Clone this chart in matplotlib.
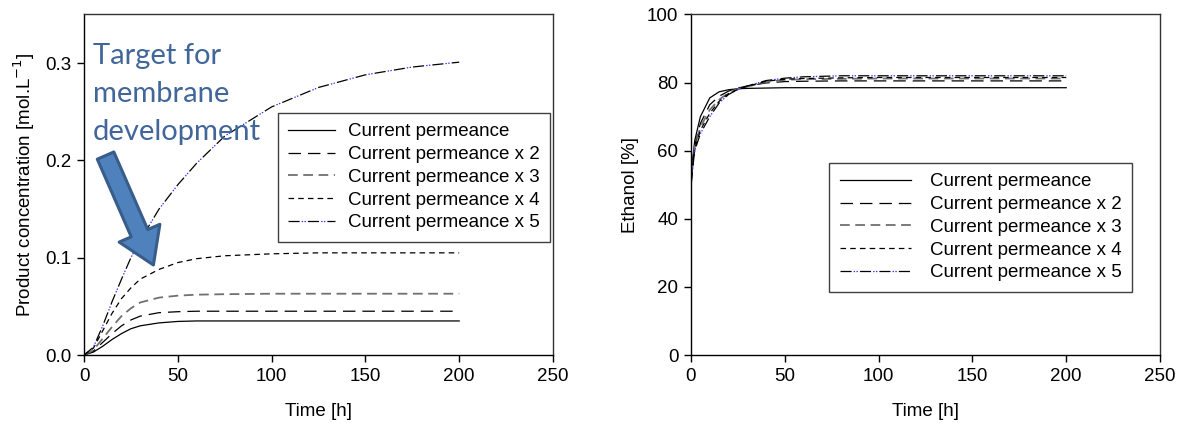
import matplotlib
matplotlib.use("Agg")
import matplotlib.pyplot as plt
from matplotlib.patches import FancyArrowPatch

plt.rcParams['font.family'] = ['Liberation Sans', 'DejaVu Sans']
plt.rcParams['lines.scale_dashes'] = False

labels = ["Current permeance", "Current permeance x 2", "Current permeance x 3",
          "Current permeance x 4", "Current permeance x 5"]

# product concentration [mol/L] vs time [h]
t_conc = [0, 5, 10, 15, 20, 25, 30, 40, 50, 60, 75, 100, 125, 150, 175, 200]
conc_x1 = [0, 0.003, 0.009, 0.016, 0.022, 0.027, 0.030, 0.033, 0.0345, 0.035, 0.035, 0.035, 0.035, 0.035, 0.035, 0.035]
conc_x2 = [0, 0.004, 0.013, 0.022, 0.030, 0.036, 0.040, 0.0435, 0.0445, 0.045, 0.045, 0.045, 0.045, 0.045, 0.045, 0.045]
conc_x3 = [0, 0.005, 0.017, 0.029, 0.040, 0.048, 0.054, 0.059, 0.061, 0.062, 0.0625, 0.063, 0.063, 0.063, 0.063, 0.063]
conc_x4 = [0, 0.007, 0.025, 0.043, 0.058, 0.069, 0.078, 0.088, 0.095, 0.099, 0.102, 0.104, 0.105, 0.105, 0.105, 0.105]
conc_x5 = [0, 0.008, 0.030, 0.055, 0.078, 0.100, 0.118, 0.150, 0.175, 0.197, 0.225, 0.255, 0.275, 0.288, 0.296, 0.301]

# ethanol [%] vs time [h]
t_eth = [0, 1, 2, 5, 10, 15, 20, 25, 30, 40, 50, 60, 80, 100, 150, 200]
eth_x1 = [50, 58, 63, 70, 75.5, 77.3, 77.9, 78.2, 78.3, 78.4, 78.5, 78.5, 78.5, 78.5, 78.5, 78.5]
eth_x2 = [50, 57, 61.5, 68, 73.5, 76, 77.5, 78.4, 79, 79.9, 80.3, 80.4, 80.5, 80.5, 80.5, 80.5]
eth_x3 = [50, 56.5, 61, 67, 72, 75, 77, 78.1, 78.8, 80.2, 80.8, 81, 81.1, 81.2, 81.2, 81.2]
eth_x4 = [50, 56, 60.5, 66, 71, 74.5, 76.8, 78, 78.9, 80.4, 81.0, 81.2, 81.4, 81.5, 81.5, 81.5]
eth_x5 = [50, 55.5, 60, 65, 70, 74, 76.5, 78, 79, 80.6, 81.3, 81.7, 82, 82, 82, 82]

fig = plt.figure(figsize=(11.79, 4.23), dpi=100)
ax1 = fig.add_axes([84/1179, 68/423, 469/1179, 340.5/423])
ax2 = fig.add_axes([691/1179, 68/423, 469/1179, 340.5/423])

lw = 0.9


def draw(ax, t, series):
    handles = []
    h, = ax.plot(t, series[0], color='black', lw=lw, ls='-')
    handles.append(h)
    h, = ax.plot(t, series[1], color='black', lw=lw, ls=(0, (9, 5)))
    handles.append(h)
    h, = ax.plot(t, series[2], color='#707070', lw=1.3, ls=(0, (7, 4)))
    handles.append(h)
    h, = ax.plot(t, series[3], color='black', lw=lw, ls=(0, (4, 3)))
    handles.append(h)
    hb, = ax.plot(t, series[4], color='black', lw=lw, ls=(0, (8, 6)))
    hd, = ax.plot(t, series[4], color='#3030ff', lw=lw, ls=(4.5, (1, 1, 1, 11)))
    handles.append((hb, hd))
    return handles


def style(ax):
    ax.set_xlim(0, 250)
    ax.set_xticks(range(0, 251, 50))
    ax.spines['top'].set_color('#333333')
    ax.spines['right'].set_color('#333333')
    for s in ax.spines.values():
        s.set_linewidth(1.0)
    ax.tick_params(direction='out', length=5, width=1, labelsize=13.5, pad=4,
                   top=False, right=False)
    ax.set_xlabel("Time [h]", fontsize=13.5, labelpad=13)


h1 = draw(ax1, t_conc, [conc_x1, conc_x2, conc_x3, conc_x4, conc_x5])
style(ax1)
ax1.set_ylim(0, 0.35)
ax1.set_yticks([0, 0.1, 0.2, 0.3])
ax1.set_yticklabels(["0.0", "0.1", "0.2", "0.3"])
ax1.set_ylabel("Product concentration [mol.L$^{-1}$]", fontsize=13.5, labelpad=6)
leg1 = ax1.legend(h1, labels, loc='upper right', bbox_to_anchor=(0.994, 0.711),
                  fontsize=13.5, frameon=True, fancybox=False, framealpha=1,
                  edgecolor='#404040', handlelength=2.5, handletextpad=0.7,
                  labelspacing=0.3, borderpad=0.55, borderaxespad=0)
leg1.get_frame().set_linewidth(1.0)

h2 = draw(ax2, t_eth, [eth_x1, eth_x2, eth_x3, eth_x4, eth_x5])
style(ax2)
ax2.set_ylim(0, 100)
ax2.set_yticks(range(0, 101, 20))
ax2.set_ylabel("Ethanol [%]", fontsize=13.5, labelpad=6)
leg2 = ax2.legend(h2, labels, loc='upper right', bbox_to_anchor=(0.940, 0.564),
                  fontsize=13.5, frameon=True, fancybox=False, framealpha=1,
                  edgecolor='#404040', handlelength=3.8, handletextpad=1.0,
                  labelspacing=0.3, borderpad=0.55, borderaxespad=0)
leg2.get_frame().set_linewidth(1.0)

# annotation: text and block arrow
fig.text(93/1179, 1 - 43/423, "Target for\nmembrane\ndevelopment",
         fontsize=21, family=['Lato', 'DejaVu Sans'], color='#41679A',
         va='top', ha='left', linespacing=1.58)
arrow = FancyArrowPatch((11.5, 0.205), (37.0, 0.0925),
                        arrowstyle="simple,head_length=25,head_width=32,tail_width=13",
                        mutation_scale=1, shrinkA=0, shrinkB=0,
                        facecolor='#4F81BD', edgecolor='#385D8A', lw=2.2, zorder=5)
ax1.add_patch(arrow)

fig.savefig("out.png", dpi=100)
